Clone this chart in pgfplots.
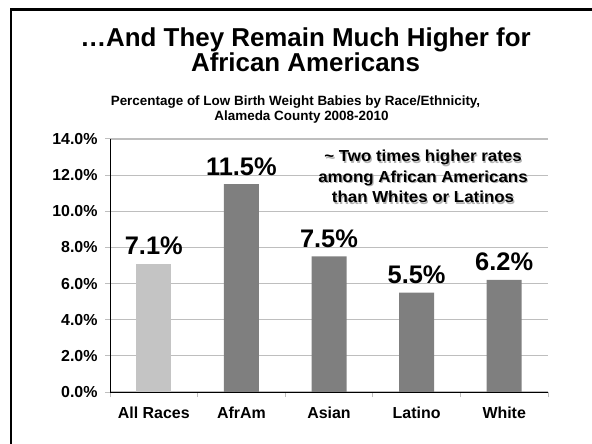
\documentclass[border=0pt]{standalone}
\usepackage{pgfplots}
\pgfplotsset{compat=1.18}
\usepackage{fontspec}
\setmainfont{Liberation Sans}
\definecolor{lightbar}{RGB}{196,196,196}
\definecolor{darkbar}{RGB}{127,127,127}
\definecolor{gridc}{RGB}{190,190,190}
\begin{document}
\begin{tikzpicture}
\useasboundingbox (0,0) rectangle (592bp,444bp);
\draw[line width=2.5bp] (11bp,0) -- (11bp,434.5bp) -- (592bp,434.5bp);
\begin{axis}[
 at={(110bp,52bp)}, anchor=south west,
 scale only axis, width=438bp, height=253bp,
 ybar, bar width=35bp,
 xmin=-0.5, xmax=4.5, ymin=0, ymax=14,
 axis x line*=bottom, axis y line*=left,
 axis line style={line width=1bp, black},
 xtick={-0.5,0.5,...,4.5}, xticklabels={},
 extra x ticks={0,1,2,3,4}, extra x tick labels={All Races,AfrAm,Asian,Latino,White},
 extra x tick style={major tick length=0pt, xticklabel style={yshift=-11bp, font=\bfseries\fontsize{16}{16}\selectfont}},
 ytick={0,2,...,14},
 yticklabel={\pgfmathprintnumber[fixed,fixed zerofill,precision=1]{\tick}\%},
 yticklabel style={xshift=-4bp, font=\bfseries\fontsize{16}{16}\selectfont},
 ymajorgrids, grid style={gridc, line width=1.2bp},
 tick align=outside, major tick length=5bp,
 tick style={gridc, line width=1bp},
 /pgf/number format/assume math mode=true,
 ticklabel style={font=\bfseries\fontsize{15}{15}\selectfont},
 nodes near coords={\pgfmathprintnumber[fixed,fixed zerofill,precision=1]{\pgfplotspointmeta}\%},
 every node near coord/.append style={font=\bfseries\fontsize{25.5}{25.5}\selectfont, anchor=base, yshift=9bp, black},
]
\addplot[fill=lightbar, draw=none, bar shift=0pt] coordinates {(0,7.1)};
\addplot[fill=darkbar, draw=none, bar shift=0pt] coordinates {(1,11.5)(2,7.5)(3,5.5)(4,6.2)};
\end{axis}
\node[anchor=base, align=center, inner sep=0pt, font=\bfseries\fontsize{26}{23}\selectfont] at (305.5bp,372bp) {…And They Remain Much Higher for\\African Americans};
\node[anchor=base, font=\bfseries\fontsize{13.5}{13.5}\selectfont] at (295.5bp,338bp) {Percentage of Low Birth Weight Babies by Race/Ethnicity,};
\node[anchor=base, font=\bfseries\fontsize{13.5}{13.5}\selectfont] at (301.5bp,323.3bp) {Alameda County 2008-2010};
\foreach \t/\yy in {{\textasciitilde\ Two times higher rates}/282, {among African Americans}/261.5, {than Whites or Latinos}/241}{
 \node[anchor=base, font=\bfseries\fontsize{16}{16}\selectfont, text=black!30, xscale=1.06] at (424.2bp,\yy bp-1.2bp) {\t};
 \node[anchor=base, font=\bfseries\fontsize{16}{16}\selectfont, xscale=1.06] at (423bp,\yy bp) {\t};
}
\end{tikzpicture}
\end{document}
